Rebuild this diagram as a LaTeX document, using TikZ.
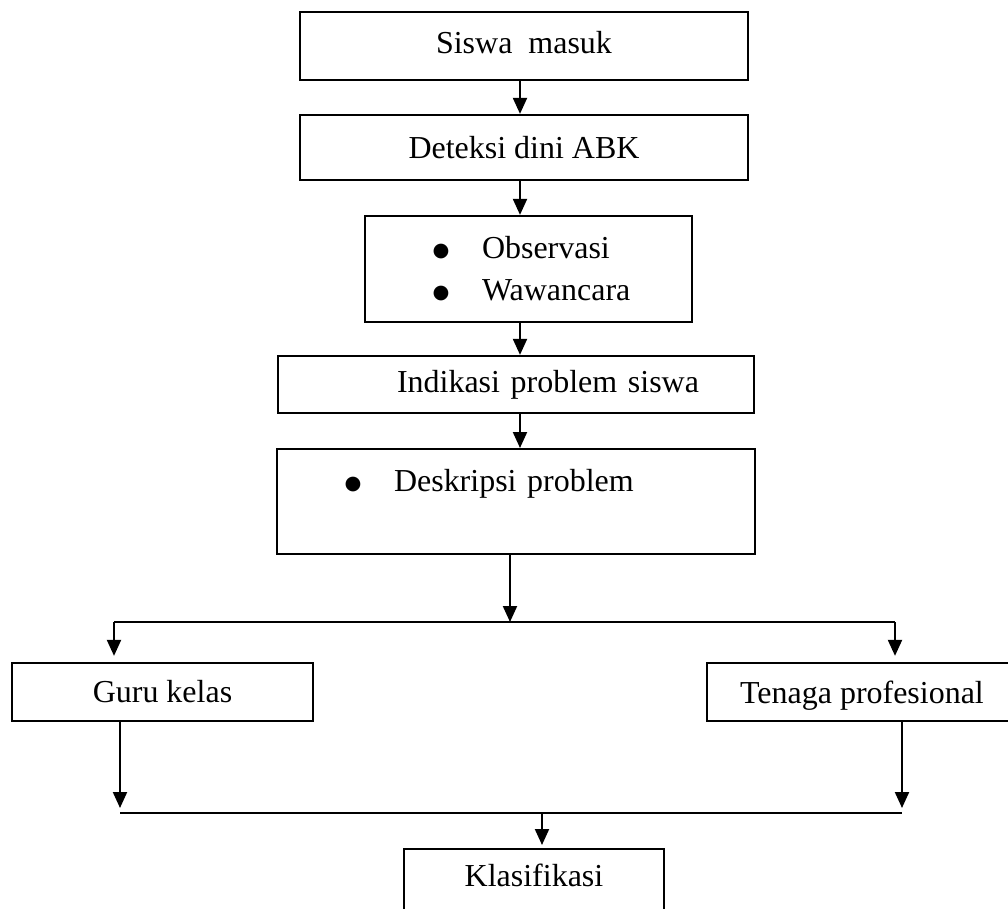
\documentclass[tikz,border=0pt]{standalone}
\usepackage{fontspec}
\setmainfont{Liberation Serif}
\newfontfamily\simbol{DejaVu Sans}
\usetikzlibrary{arrows.meta}

\newcommand{\butir}[1]{\hspace*{1.52cm}\makebox[0pt]{\raisebox{0.04cm}{\simbol\fontsize{11pt}{0pt}\selectfont ●}}\hspace*{0.82cm}#1}

\begin{document}
\begin{tikzpicture}[x=0.02cm, y=-0.02cm,
    kotak/.style={draw, rectangle, line width=1.3pt},
    panah/.style={line width=1.2pt, -{Triangle[length=0.32cm, width=0.28cm]}},
    every node/.style={font=\fontsize{18.2pt}{23.9pt}\selectfont}]
      \clip (0,0) rectangle (1008,909);

      \node[kotak, minimum width=8.96cm, minimum height=1.36cm, text depth=0.16cm] (siswa) at (524,46) {Siswa~~masuk};
      \node[kotak, minimum width=8.96cm, minimum height=1.3cm] (deteksi) at (524,147.5) {Deteksi dini ABK};
      \node[kotak, text width=6.54cm, minimum height=2.12cm, align=left, inner xsep=0pt] (metode) at (528.5,269) {\butir{Observasi}\\\butir{Wawancara}};
      \node[kotak, text width=9.52cm, minimum height=1.14cm, align=left, inner xsep=0pt] (indikasi) at (516,384.5) {\hspace*{2.38cm}Indikasi problem siswa};
      \node[kotak, anchor=north, text width=9.56cm, align=left, inner xsep=0pt, inner ysep=0pt, text height=0.84cm, text depth=1.26cm] (deskripsi) at (516,448) {\butir{Deskripsi problem}};

      \node[kotak, minimum width=6.02cm, minimum height=1.16cm] (guru) at (162.5,692) {Guru kelas};
      \node[kotak, minimum width=6.2cm, minimum height=1.16cm, text depth=0pt] (tenaga) at (862,692) {Tenaga profesional};
      \node[kotak, anchor=north, minimum width=5.2cm, inner ysep=0pt, text height=0.74cm, text depth=1.5cm] (klasifikasi) at (534,848) {Klasifikasi};

      \coordinate (sumbu) at (520,0);
      \coordinate (cabang) at (510,622);
      \coordinate (kiri) at (114,622);
      \coordinate (kanan) at (895,622);
      \coordinate (gkiri) at (120,813);
      \coordinate (gkanan) at (902,813);
      \coordinate (titik) at (542,813);

      \draw[panah] (siswa.south -| sumbu) -- (deteksi.north -| sumbu);
      \draw[panah] (deteksi.south -| sumbu) -- (metode.north -| sumbu);
      \draw[panah] (metode.south -| sumbu) -- (indikasi.north -| sumbu);
      \draw[panah] (indikasi.south -| sumbu) -- (deskripsi.north -| sumbu);

      \draw[panah] (deskripsi.south -| cabang) -- (cabang);
      \draw[line width=1.2pt] (kiri) -- (kanan);
      \draw[panah, shorten >=0.12cm] (kiri) -- (guru.north -| kiri);
      \draw[panah, shorten >=0.12cm] (kanan) -- (tenaga.north -| kanan);

      \draw[panah, shorten >=0.1cm] (guru.south -| gkiri) -- (gkiri);
      \draw[panah, shorten >=0.1cm] (tenaga.south -| gkanan) -- (gkanan);
      \draw[line width=1.2pt] (gkiri) -- (gkanan);
      \draw[panah, shorten >=0.06cm] (titik) -- (klasifikasi.north -| titik);

    \end{tikzpicture}
\end{document}
